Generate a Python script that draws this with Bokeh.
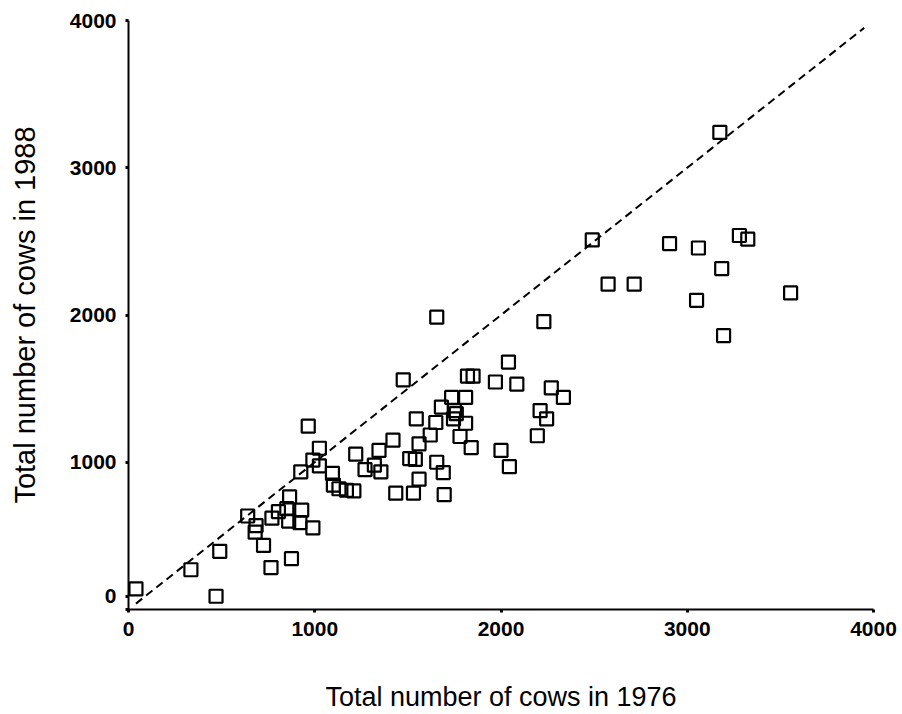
from bokeh.plotting import figure
from bokeh.models import Range1d, FixedTicker
from bokeh.embed import file_html
from bokeh.resources import INLINE

# Herd sizes per area: total cows in 1976 vs. 1988
cows_1976 = [
    40, 335, 490, 470, 765, 875, 725, 640, 685, 680,
    770, 805, 865, 850, 860, 930, 920, 990, 925, 965,
    1025, 990, 1025, 1095, 1100, 1130, 1170, 1210, 1220, 1270,
    1320, 1355, 1345, 1420, 1435, 1530, 1695, 1560, 1690, 1655,
    1510, 1540, 1560, 1620, 1780, 1840, 1545, 1650, 1810, 1745,
    1760, 1750, 1680, 1735, 1810, 1475, 1820, 1850, 1970, 2085,
    2040, 1655, 2230, 2270, 2335, 2210, 2245, 2195, 2000, 2045,
    2490, 3175, 2905, 3060, 3280, 3325, 3185, 2575, 2715, 3050,
    3555, 3195,
]
cows_1988 = [
    140, 270, 395, 90, 285, 345, 435, 635, 570, 525,
    620, 665, 765, 685, 600, 675, 590, 555, 935, 1245,
    1095, 1015, 975, 925, 845, 820, 810, 805, 1055, 950,
    980, 935, 1080, 1150, 790, 790, 780, 885, 930, 1000,
    1025, 1020, 1125, 1185, 1175, 1100, 1295, 1270, 1265, 1295,
    1330, 1350, 1375, 1440, 1440, 1560, 1585, 1585, 1545, 1530,
    1680, 1985, 1955, 1505, 1440, 1350, 1295, 1180, 1080, 970,
    2510, 3240, 2485, 2455, 2540, 2515, 2315, 2210, 2210, 2100,
    2150, 1860,
]

# Line of equal herd size (1988 = 1976)
equal_line = [40, 3950]

x_ticks = [0, 1000, 2000, 3000, 4000]
# the y-axis "0" is lifted slightly above the corner
y_ticks = [0, 90, 1000, 2000, 3000, 4000]
y_tick_text = {0: "", 90: "0"}

p = figure(
    width=902, height=714,
    x_range=Range1d(0, 4000), y_range=Range1d(0, 4000),
    output_backend="svg", toolbar_location=None,
    min_border_left=128, min_border_right=29,
    min_border_top=20, min_border_bottom=105,
    x_axis_label="Total number of cows in 1976",
    y_axis_label="Total number of cows in 1988",
)
p.outline_line_color = None
p.xgrid.visible = False
p.ygrid.visible = False
p.background_fill_color = "white"
p.border_fill_color = "white"

p.line(equal_line, equal_line, line_color="black", line_width=2,
       line_dash="8 5")

p.scatter(cows_1976, cows_1988, marker="square", size=13,
          fill_color=None, line_color="black", line_width=2.2)

for ax in (p.xaxis[0], p.yaxis[0]):
    ax.minor_tick_line_color = None
    ax.major_tick_in = 0
    ax.major_tick_out = 3
    ax.major_tick_line_width = 3
    ax.axis_line_width = 2
    ax.axis_line_color = "black"
    ax.major_label_text_font = "Liberation Sans"
    ax.major_label_text_font_size = "21px"
    ax.major_label_text_font_style = "bold"
    ax.major_label_text_color = "black"
    ax.axis_label_text_font = "Liberation Sans"
    ax.axis_label_text_font_style = "normal"
    ax.axis_label_text_color = "black"

p.xaxis[0].axis_label_text_font_size = "27px"
p.yaxis[0].axis_label_text_font_size = "29px"

p.xaxis[0].ticker = FixedTicker(ticks=x_ticks)
p.yaxis[0].ticker = FixedTicker(ticks=y_ticks)
p.yaxis[0].major_label_overrides = y_tick_text

p.xaxis[0].major_label_standoff = 9
p.xaxis[0].axis_label_standoff = 43
p.yaxis[0].major_label_standoff = 9
p.yaxis[0].axis_label_standoff = 26

open("out.html", "w").write(file_html(p, INLINE))
